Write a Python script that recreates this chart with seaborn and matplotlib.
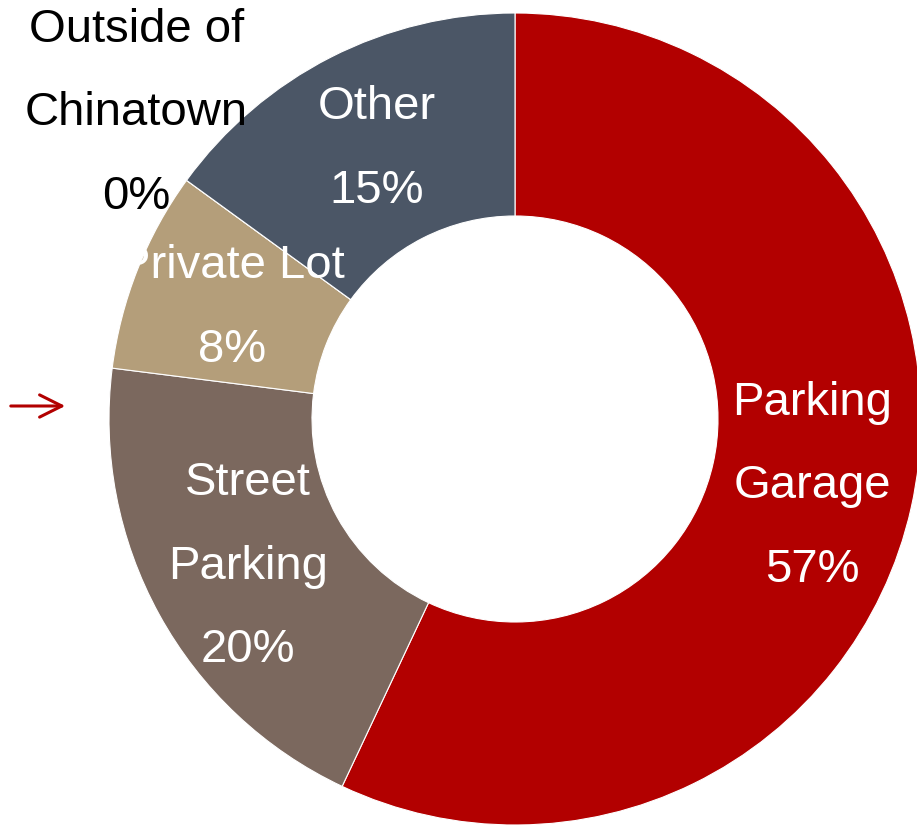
import numpy as np
import seaborn as sns
import matplotlib.pyplot as plt
from matplotlib.patches import FancyArrowPatch

# parking share by location
categories = ['Parking\nGarage', 'Street\nParking', 'Private Lot',
              'Outside of\nChinatown', 'Other']
shares = [57, 20, 8, 0, 15]
colors = ['#B20000', '#7B685E', '#B49E7A', '#B49E7A', '#4B5666']


def donut(shares, categories, colors):
    '''
    Draw the donut chart with the labels inside the ring.
    '''
    fig = plt.figure(figsize=(9.17, 8.29), dpi=100)
    ax = fig.add_axes([109 / 917, 3 / 829, 812 / 917, 812 / 829])
    wedges, _ = ax.pie(shares, colors=colors, startangle=90,
                       counterclock=False, radius=1,
                       wedgeprops=dict(width=0.5, edgecolor='white',
                                       linewidth=0.8))
    ax.set_xlim(-1, 1)
    ax.set_ylim(-1, 1)
    ax.axis('off')

    for w, cat, val in zip(wedges, categories, shares):
        mid = (w.theta1 + w.theta2) / 2
        if val == 0:
            # zero slice gets its label outside the ring
            r, color, mid = 1.2, 'black', mid - 3
        else:
            r, color = 0.75, 'white'
        mid = np.deg2rad(mid)
        ax.text(r * np.cos(mid), r * np.sin(mid),
                cat + '\n' + str(val) + '%',
                ha='center', va='center', multialignment='center',
                color=color, fontsize=34, linespacing=2.17,
                clip_on=False)

    # small red arrow on the left
    fig.patches.append(FancyArrowPatch(
        (8 / 917, 1 - 407 / 829), (68 / 917, 1 - 407 / 829),
        transform=fig.transFigure, arrowstyle='->', mutation_scale=40,
        color='#B20000', lw=2.2))
    fig.savefig('out.png', dpi=100)


def main():
    sns.set_theme(style='white')
    plt.rcParams['font.family'] = ['Liberation Sans', 'DejaVu Sans']
    donut(shares, categories, colors)


if __name__ == '__main__':
    main()
